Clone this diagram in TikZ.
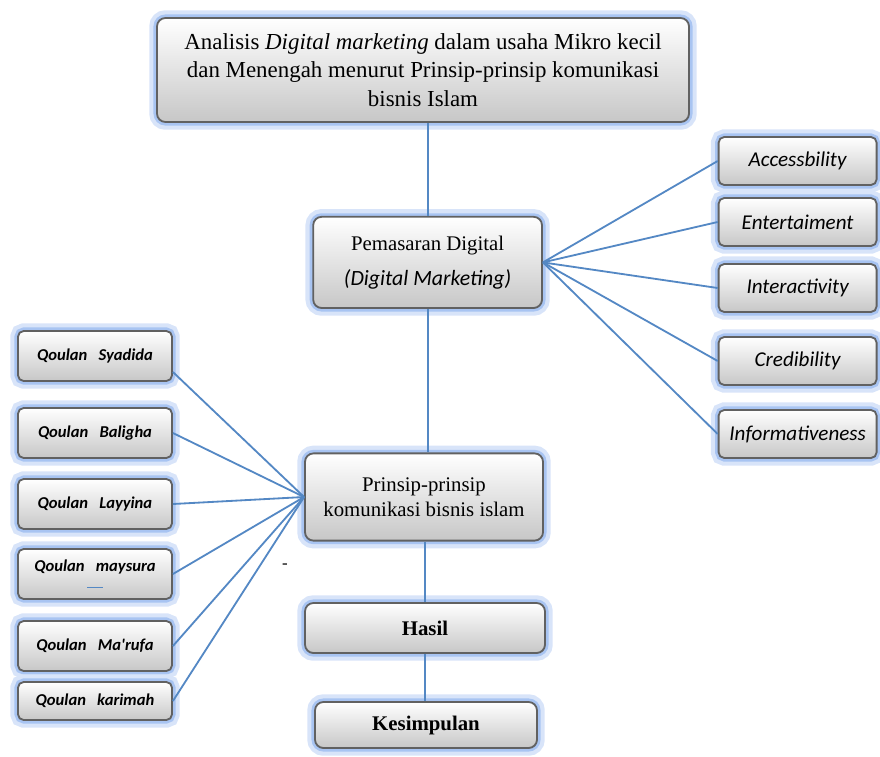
\documentclass[tikz,border=0pt]{standalone}
\usepackage{fontspec}
\setmainfont{Liberation Serif}
\newfontfamily\calibri{Carlito}
\definecolor{linkblue}{RGB}{84,136,196}
\definecolor{glowblue}{RGB}{168,196,242}
\begin{document}
\begin{tikzpicture}[
      box/.style={rounded corners=6pt, draw=black!62, line width=1.3pt, top color=white, bottom color=black!22, align=center, inner sep=2pt,
        preaction={draw=glowblue!45, line width=11pt}, preaction={draw=glowblue, line width=5pt}},
      bigbox/.style={box, font=\fontsize{16.3}{20.5}\selectfont},
      midbox/.style={box, font=\fontsize{14.8}{18}\selectfont},
      itembox/.style={box, rounded corners=4pt, minimum width=3.95cm, minimum height=1.2cm, font=\calibri\itshape\fontsize{15}{17}\selectfont},
      qbox/.style={box, rounded corners=4pt, minimum width=3.85cm, minimum height=1.25cm, font=\calibri\bfseries\itshape\fontsize{11.8}{13}\selectfont},
      link/.style={draw=linkblue, line width=1.3pt}]
    \useasboundingbox (0,0) rectangle (22,-18.9);
    % central column
    \node[bigbox, minimum width=13.3cm, minimum height=2.6cm] (analisis) at (10.575,-1.75) {Analisis \textit{Digital marketing} dalam usaha Mikro kecil\\ dan Menengah menurut Prinsip-prinsip komunikasi\\ bisnis Islam};
    \node[midbox, minimum width=5.72cm, minimum height=2.28cm] (pemasaran) at (10.69,-6.56) {Pemasaran Digital\\[7pt] {\calibri\itshape\fontsize{15.5}{18}\selectfont (Digital Marketing)}};
    \node[midbox, minimum width=5.95cm, minimum height=2.18cm] (prinsip) at (10.6,-12.425) {Prinsip-prinsip\\ komunikasi bisnis islam};
    \node[midbox, minimum width=6cm, minimum height=1.25cm, font=\fontsize{14.8}{18}\selectfont\bfseries] (hasil) at (10.625,-15.7) {Hasil};
    \node[midbox, minimum width=5.55cm, minimum height=1.15cm, font=\fontsize{14.8}{18}\selectfont\bfseries] (kesimpulan) at (10.65,-18.125) {Kesimpulan};
    % right column
    \node[itembox] (access) at (19.94,-4.025) {Accessbility};
    \node[itembox] (entertain) at (19.94,-5.55) {Entertaiment};
    \node[itembox] (interact) at (19.94,-7.2) {Interactivity};
    \node[itembox] (credible) at (19.94,-9.025) {Credibility};
    \node[itembox] (inform) at (19.94,-10.85) {Informativeness};
    % left column
    \node[qbox] (syadida) at (2.375,-8.9) {Qoulan\hspace{0.45em} Syadida};
    \node[qbox] (baligha) at (2.375,-10.825) {Qoulan\hspace{0.45em} Baligha};
    \node[qbox] (layyina) at (2.375,-12.6) {Qoulan\hspace{0.45em} Layyina};
    \node[qbox] (maysura) at (2.375,-14.35) {Qoulan\hspace{0.45em} maysura\\[-1pt]{\color{linkblue}\rule{0.38cm}{0.7pt}}};
    \node[qbox] (marufa) at (2.375,-16.15) {Qoulan\hspace{0.45em} Ma'rufa};
    \node[qbox, minimum height=0.95cm] (karimah) at (2.375,-17.525) {Qoulan\hspace{0.45em} karimah};
    \node[font=\fontsize{12}{12}\selectfont] (stray) at (7.125,-14.15) {-};
    % connectors
    \draw[link] (pemasaran.north) -- (pemasaran.north |- analisis.south);
    \draw[link] (pemasaran.south) -- (pemasaran.south |- prinsip.north);
    \draw[link] (hasil.north) -- (hasil.north |- prinsip.south);
    \draw[link] (hasil.south) -- (hasil.south |- kesimpulan.north);
    \draw[link] (pemasaran.east) -- (access.west);
    \draw[link] (pemasaran.east) -- (entertain.west);
    \draw[link] (pemasaran.east) -- (interact.west);
    \draw[link] (pemasaran.east) -- (credible.west);
    \draw[link] (pemasaran.east) -- (inform.west);
    \draw[link] ([yshift=-0.4cm]syadida.east) -- (prinsip.west);
    \draw[link] (baligha.east) -- (prinsip.west);
    \draw[link] (layyina.east) -- (prinsip.west);
    \draw[link] (maysura.east) -- (prinsip.west);
    \draw[link] (marufa.east) -- (prinsip.west);
    \draw[link] (karimah.east) -- (prinsip.west);
  \end{tikzpicture}
\end{document}
